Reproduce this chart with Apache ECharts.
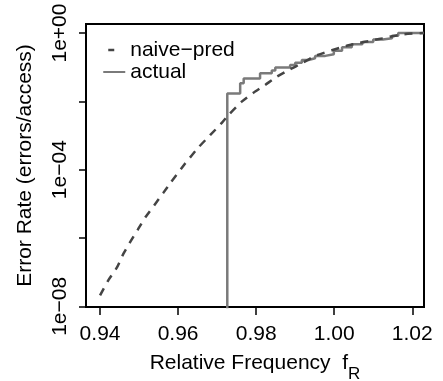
<!DOCTYPE html>
<html>
<head>
<meta charset="utf-8">
<script src="https://cdn.jsdelivr.net/npm/echarts@6/dist/echarts.min.js"></script>
<style>
html,body{margin:0;padding:0;background:#fff;}
#chart{width:443px;height:381px;}
</style>
</head>
<body>
<div id="chart"></div>
<script>
// ---- data ----
const naiveX = [0.9400, 0.9421, 0.9443, 0.9460, 0.9477, 0.9497, 0.9517, 0.9539, 0.9562, 0.9582, 0.9618, 0.9652, 0.9682, 0.9712, 0.9729, 0.9763, 0.9793, 0.9823, 0.9853, 0.9887, 0.9917, 0.9951, 1.0037, 1.0122, 1.0174, 1.0229];
const naiveY = [2.09e-8, 5.75e-8, 1.35e-7, 3.47e-7, 7.59e-7, 1.78e-6, 4.17e-6, 9.12e-6, 2.09e-5, 4.37e-5, 1.51e-4, 4.47e-4, 1.02e-3, 2.34e-3, 3.98e-3, 9.77e-3, 0.0178, 0.0302, 0.0525, 0.0871, 0.129, 0.214, 0.437, 0.692, 0.912, 1.0];

const actualX = [0.9726, 0.9726, 0.9759, 0.9768, 0.9810, 0.9840, 0.9849, 0.9887, 0.9900, 0.9917, 0.9934, 0.9951, 0.9977, 0.9999, 1.0020, 1.0045, 1.0072, 1.0100, 1.0125, 1.0148, 1.0164, 1.0230];
const actualY = [1e-10, 0.0171, 0.0339, 0.0468, 0.0661, 0.0794, 0.0977, 0.115, 0.135, 0.162, 0.182, 0.214, 0.240, 0.302, 0.380, 0.468, 0.550, 0.646, 0.708, 0.832, 1.0, 1.0];

const xTicks = [0.94, 0.96, 0.98, 1.00, 1.02];
const xTickLabels = ['0.94', '0.96', '0.98', '1.00', '1.02'];
const yTicks = [1, 1e-2, 1e-4, 1e-6, 1e-8];
const yLabelValues = [1, 1e-4, 1e-8];
const yTickLabels = ['1e+00', '1e\u221204', '1e\u221208'];

const seriesNames = ['naive\u2212pred', 'actual'];
// --------------------------------------

const FONT = "'Liberation Sans', Arial, Helvetica, sans-serif";
const chart = echarts.init(document.getElementById('chart'), null, {renderer: 'canvas'});

function zip(xs, ys) { return xs.map((x, i) => [x, ys[i]]); }

const option = {
  animation: false,
  backgroundColor: '#ffffff',
  grid: {
    left: 86, top: 24, right: 19, bottom: 74,
    outerBoundsMode: 'none',
    containLabel: false,
    show: true, borderColor: '#000', borderWidth: 2, backgroundColor: 'transparent'
  },
  legend: {
    orient: 'vertical',
    left: 102, top: 39, padding: 0,
    itemWidth: 22, itemHeight: 14, itemGap: 0,
    itemStyle: {opacity: 0},
    textStyle: {fontFamily: FONT, fontSize: 21, color: '#000', lineHeight: 22},
    data: [
      {name: seriesNames[0], itemStyle: {opacity: 0}, lineStyle: {type: [6, 40], dashOffset: 41, width: 2.5, color: '#444'}},
      {name: seriesNames[1], itemStyle: {opacity: 0}}
    ]
  },
  xAxis: {
    type: 'value',
    min: 0.9364, max: 1.0230,
    splitLine: {show: false},
    axisLine: {show: false},
    axisTick: {show: true, length: 8, lineStyle: {color: '#000', width: 1.5}, customValues: xTicks},
    axisLabel: {
      fontFamily: FONT, fontSize: 21, color: '#000', margin: 17,
      customValues: xTicks,
      formatter: function (v) {
        const i = xTicks.findIndex(t => Math.abs(t - v) < 1e-9);
        return i >= 0 ? xTickLabels[i] : '';
      }
    },
    name: 'Relative Frequency  f{sub|R}',
    nameLocation: 'middle',
    nameGap: 37,
    nameMoveOverlap: false,
    nameTextStyle: {
      fontFamily: FONT, fontSize: 21, color: '#000',
      rich: {sub: {fontFamily: FONT, fontSize: 17, color: '#000', padding: [22, 0, 0, 0]}}
    }
  },
  yAxis: {
    type: 'log',
    logBase: 10,
    min: Math.pow(10, -8.02), max: Math.pow(10, 0.264),
    splitLine: {show: false},
    minorSplitLine: {show: false},
    axisLine: {show: false},
    axisTick: {show: true, length: 7, lineStyle: {color: '#000', width: 1.5}, customValues: yTicks},
    axisLabel: {
      fontFamily: FONT, fontSize: 21, color: '#000', margin: 15, rotate: 90,
      customValues: yLabelValues,
      formatter: function (v) {
        const i = yLabelValues.findIndex(t => Math.abs(Math.log10(t) - Math.log10(v)) < 1e-6);
        return i >= 0 ? yTickLabels[i] : '';
      }
    },
    name: 'Error Rate (errors/access)',
    nameLocation: 'middle',
    nameRotate: 90,
    nameGap: 50,
    nameMoveOverlap: false,
    nameTextStyle: {fontFamily: FONT, fontSize: 21, color: '#000'}
  },
  series: [
    {
      name: seriesNames[0],
      type: 'line',
      data: zip(naiveX, naiveY),
      smooth: 0.2,
      symbol: 'none',
      clip: true,
      lineStyle: {color: '#444', width: 2.5, type: [8, 7]},
      itemStyle: {color: '#444'},
      z: 3
    },
    {
      name: seriesNames[1],
      type: 'line',
      step: 'end',
      data: zip(actualX, actualY),
      symbol: 'none',
      clip: true,
      lineStyle: {color: '#7a7a7a', width: 2.5},
      itemStyle: {color: '#7a7a7a'},
      z: 2
    }
  ]
};
chart.setOption(option);
</script>
</body>
</html>
